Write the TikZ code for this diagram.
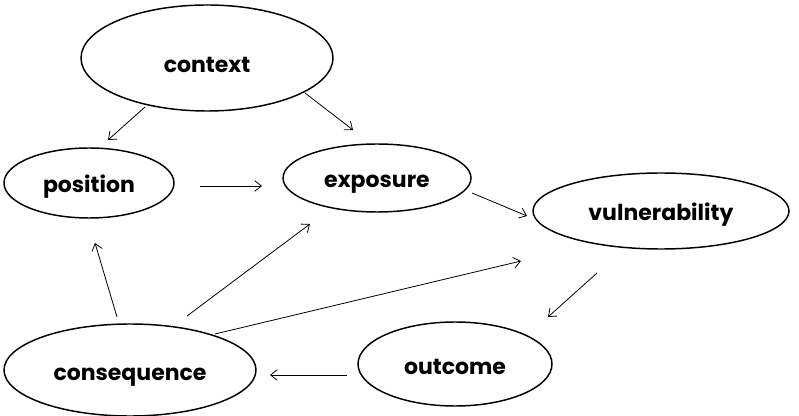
\documentclass[tikz,border=0pt]{standalone}
\usepackage{fontspec}
\setmainfont{Poppins}
\usetikzlibrary{shapes.geometric,arrows.meta}
\tikzset{
  ell/.style={draw=black, ellipse, line width=1.1pt, inner sep=0pt, text height=15pt, text depth=0pt,
    font=\fontsize{16.5}{18}\selectfont\bfseries},
  arr/.style={draw=black, line width=0.6pt, -{Straight Barb[length=5pt,width=8pt]}}
}
\begin{document}
\begin{tikzpicture}[x=0.75pt,y=-0.75pt]
\useasboundingbox (0,0) rectangle (799,416);
\node[ell, text height=22.5pt, minimum width=252*0.75pt, minimum height=106*0.75pt] (context) at (207,58) {context};
\node[ell, minimum width=170*0.75pt, minimum height=70*0.75pt] (position) at (89,183) {position};
\node[ell, minimum width=188*0.75pt, minimum height=68*0.75pt] (exposure) at (377,178) {exposure};
\node[ell, minimum width=256*0.75pt, minimum height=76*0.75pt] (vulnerability) at (661,211) {vulnerability};
\node[ell, minimum width=194*0.75pt, minimum height=84*0.75pt] (outcome) at (455,364) {outcome};
\node[ell, minimum width=252*0.75pt, minimum height=92*0.75pt] (consequence) at (130,370) {consequence};
% free arrow ends
\coordinate (a1s) at (145,107); \coordinate (a1e) at (108,140);
\coordinate (a2s) at (305,93);  \coordinate (a2e) at (353,130);
\coordinate (a3s) at (200,186); \coordinate (a3e) at (262,186);
\coordinate (a4s) at (472,193); \coordinate (a4e) at (527,216);
\coordinate (a5s) at (597,273); \coordinate (a5e) at (548,317);
\coordinate (a6s) at (347,375); \coordinate (a6e) at (270,375);
\coordinate (a7s) at (117,317); \coordinate (a7e) at (95,243);
\coordinate (a8s) at (187,316); \coordinate (a8e) at (310,224);
\coordinate (a9s) at (215,334); \coordinate (a9e) at (521,261);
\draw[arr] (a1s) -- (a1e);
\draw[arr] (a2s) -- (a2e);
\draw[arr] (a3s) -- (a3e);
\draw[arr] (a4s) -- (a4e);
\draw[arr] (a5s) -- (a5e);
\draw[arr] (a6s) -- (a6e);
\draw[arr] (a7s) -- (a7e);
\draw[arr] (a8s) -- (a8e);
\draw[arr] (a9s) -- (a9e);
\end{tikzpicture}
\end{document}
